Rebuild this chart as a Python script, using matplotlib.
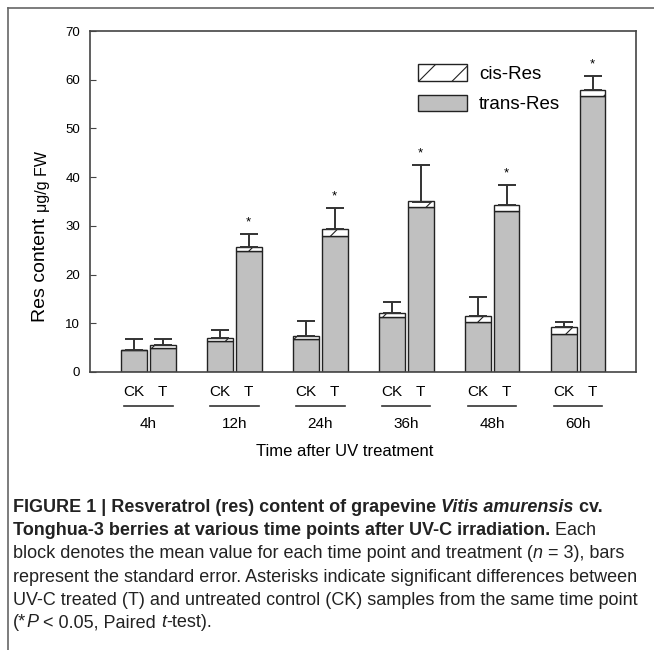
# resveratrol content after UV-C, stacked cis/trans bars per time point
import matplotlib.pyplot as plt
from matplotlib.patches import Patch
from matplotlib.lines import Line2D
import numpy as np

plt.rcParams['font.family'] = ['Liberation Sans', 'DejaVu Sans']
plt.rcParams['hatch.linewidth'] = 0.8

times = ['4h', '12h', '24h', '36h', '48h', '60h']
groups = ['CK', 'T']
# trans-Res is the lower block, cis-Res sits on top (ug/g FW)
ck_trans = [4.5, 6.3, 6.7, 11.2, 10.3, 7.9]
ck_cis = [0.0, 0.7, 0.7, 0.9, 1.2, 1.4]
ck_err = [2.3, 1.6, 3.1, 2.3, 3.8, 1.0]
t_trans = [4.9, 24.9, 28.0, 33.8, 33.1, 56.7]
t_cis = [0.6, 0.8, 1.3, 1.2, 1.1, 1.2]
t_err = [1.3, 2.7, 4.4, 7.4, 4.2, 2.9]
signif = [False, True, True, True, True, True]

W, H = 654, 650
fig = plt.figure(figsize=(W/100, H/100), dpi=100)
ax = fig.add_axes([90/W, 1-372/H, (636-90)/W, (372-31)/H])

x = np.arange(len(times))
off = 0.165
bw = 0.30
grey = '#c0c0c0'
edge = '#222222'

for xs, tr, cis, err in [(x-off, ck_trans, ck_cis, ck_err), (x+off, t_trans, t_cis, t_err)]:
    tr = np.array(tr)
    cis = np.array(cis)
    ax.bar(xs, tr, bw, color=grey, edgecolor=edge, lw=1.0, zorder=2)
    ax.bar(xs, cis, bw, bottom=tr, color='white', edgecolor=edge, hatch='/', lw=1.0, zorder=2)
    tot = tr + cis
    ax.errorbar(xs, tot, yerr=[np.zeros_like(tot), err], fmt='none', ecolor='#333333',
                elinewidth=1.4, capsize=6.5, capthick=1.4, zorder=3)

# asterisks over treated bars
for i in range(len(times)):
    if signif[i]:
        top = t_trans[i] + t_cis[i] + t_err[i]
        ax.text(x[i]+off, top+2.4, '*', ha='center', va='center', fontsize=9.5)

ax.set_ylim(0, 70)
ax.set_xlim(-0.68, 5.67)
ax.set_yticks(np.arange(0, 71, 10))
ax.tick_params(axis='y', direction='in', length=4, labelsize=9.5, pad=7, color='#444444')

xt = np.ravel(np.column_stack([x-off, x+off]))
ax.set_xticks(xt)
ax.set_xticklabels(groups*len(times), fontsize=11)
ax.tick_params(axis='x', length=0, pad=9)

for s in ax.spines.values():
    s.set_color('#444444')
    s.set_linewidth(1.2)

# underline and time under each pair
tr_x = ax.get_xaxis_transform()
for i, t in enumerate(times):
    ax.plot([x[i]-0.28, x[i]+0.28], [-0.0997, -0.0997], transform=tr_x, color='#333333',
            lw=1.2, clip_on=False)
    ax.text(x[i], -0.152, t, transform=tr_x, ha='center', va='center', fontsize=11)

ax.text(0.467, -0.232, 'Time after UV treatment', transform=ax.transAxes,
        ha='center', va='center', fontsize=12)

ax.legend(handles=[Patch(facecolor='white', edgecolor=edge, hatch='/', label='cis-Res'),
                   Patch(facecolor=grey, edgecolor=edge, label='trans-Res')],
          loc='upper left', bbox_to_anchor=(0.6007, 0.903), frameon=False, fontsize=13.5,
          handlelength=2.6, handleheight=1.0, handletextpad=0.65, labelspacing=0.62,
          borderpad=0, borderaxespad=0)

# frame lines around the figure panel
fig.add_artist(Line2D([8/W, 1], [1-8/H, 1-8/H], transform=fig.transFigure, color='#666666', lw=1.2))
fig.add_artist(Line2D([8/W, 8/W], [0, 1-8/H], transform=fig.transFigure, color='#666666', lw=1.2))

rend = fig.canvas.get_renderer()

# y label: two pieces, smaller unit text
t1 = fig.text(41/W, 1-322/H, 'Res content', rotation=90, ha='center', va='bottom', fontsize=14)
bb = t1.get_window_extent(renderer=rend)
fig.text(42/W, (bb.y1+6)/H, 'μg/g FW', rotation=90, ha='center', va='bottom', fontsize=11.5)


def runs(y, parts, size=13):
    xp = 13.0
    for s, wt, st in parts:
        t = fig.text(xp/W, 1-y/H, s, fontsize=size, fontweight=wt, fontstyle=st,
                     ha='left', va='baseline', color='#222222')
        xp += t.get_window_extent(renderer=rend).width


caption = [
    [('FIGURE 1 | Resveratrol (res) content of grapevine', 'bold', 'normal'),
     (' Vitis amurensis', 'bold', 'italic'), (' cv.', 'bold', 'normal')],
    [('Tonghua-3 berries at various time points after UV-C irradiation.', 'bold', 'normal'),
     (' Each', 'normal', 'normal')],
    [('block denotes the mean value for each time point and treatment (', 'normal', 'normal'),
     ('n', 'normal', 'italic'), (' = 3), bars', 'normal', 'normal')],
    [('represent the standard error. Asterisks indicate significant differences between', 'normal', 'normal')],
    [('UV-C treated (T) and untreated control (CK) samples from the same time point', 'normal', 'normal')],
    [('(*', 'normal', 'normal'), ('P', 'normal', 'italic'), (' < 0.05, Paired ', 'normal', 'normal'),
     ('t', 'normal', 'italic'), ('-test).', 'normal', 'normal')],
]
base = [512, 535, 558, 582, 605, 627]
for yb, parts in zip(base, caption):
    runs(yb, parts)

fig.savefig('out.png', dpi=100)
